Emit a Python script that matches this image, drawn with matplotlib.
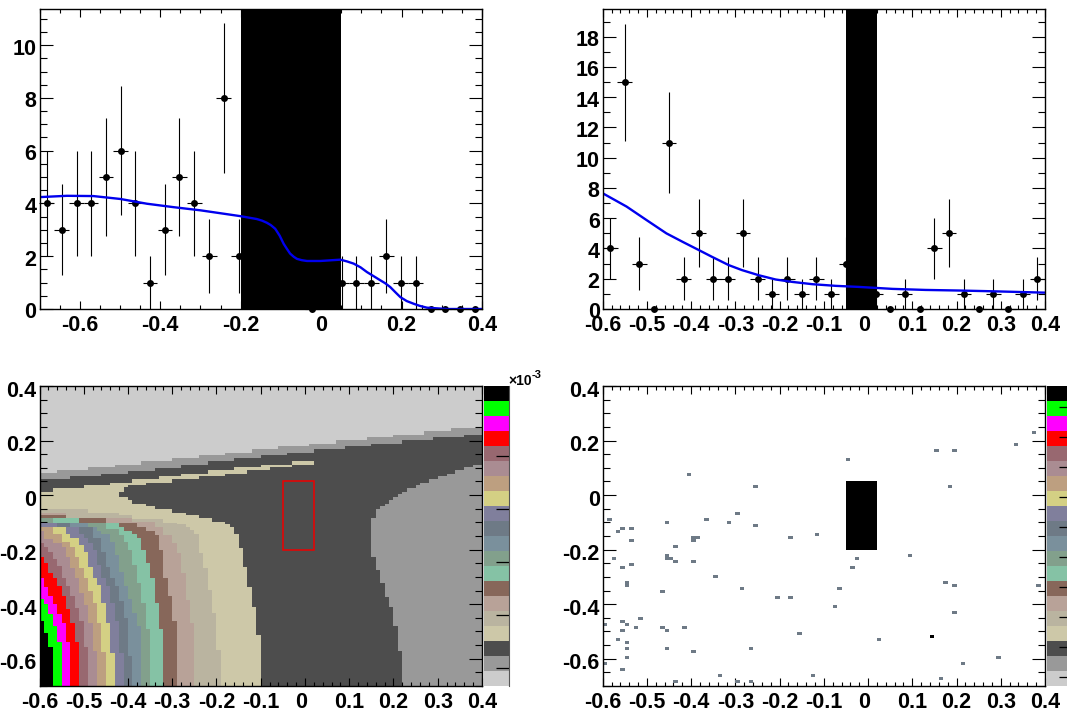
import numpy as np
import matplotlib
matplotlib.use("Agg")
import matplotlib.pyplot as plt
from matplotlib.patches import Rectangle
from matplotlib.ticker import FixedLocator, FixedFormatter
from matplotlib.transforms import ScaledTranslation

W, H, DPI = 1067, 714, 100
plt.rcParams['font.family'] = ['Liberation Sans', 'DejaVu Sans']

# ---------- top-left histogram
tl_x = [-0.682,-0.645,-0.608,-0.572,-0.535,-0.498,-0.462,-0.425,-0.388,-0.352,-0.315,-0.278,-0.242,-0.205,
        -0.022,0.052,0.088,0.125,0.162,0.198,0.235,0.272,0.308,0.345,0.382]
tl_y = [4,3,4,4,5,6,4,1,3,5,4,2,8,2,0,1,1,1,2,1,1,0,0,0,0]
tl_err = [2,1.73,2,2,2.24,2.45,2,1,1.73,2.24,2,1.41,2.83,1.41,0,1,1,1,1.41,1,1,0,0,0,0]
tl_xerr = 0.0183
tl_curve_x = [-0.7,-0.632,-0.566,-0.499,-0.433,-0.367,-0.300,-0.201,-0.160,-0.147,-0.135,-0.125,-0.114,-0.103,-0.093,-0.085,
              -0.077,-0.068,-0.060,-0.048,-0.035,-0.002,0.048,0.065,0.081,0.098,0.114,0.130,0.147,0.160,0.172,0.185,0.197,0.213,0.230,0.245,0.263,0.313,0.4]
tl_curve_y = [4.24,4.29,4.28,4.17,3.99,3.86,3.74,3.52,3.41,3.35,3.27,3.18,3.04,2.78,2.47,2.28,
              2.10,1.98,1.90,1.85,1.82,1.82,1.87,1.80,1.72,1.58,1.40,1.25,1.09,0.97,0.83,0.63,0.45,0.30,0.20,0.12,0.05,0.0,0.0]

# ---------- top-right histogram
tr_x = [-0.583,-0.55,-0.517,-0.483,-0.45,-0.417,-0.383,-0.35,-0.317,-0.283,-0.25,-0.217,-0.183,-0.15,-0.117,-0.083,-0.05,
        0.017,0.05,0.083,0.117,0.15,0.183,0.217,0.25,0.283,0.317,0.35,0.383]
tr_y = [4,15,3,0,11,2,5,2,2,5,2,1,2,1,2,1,3,1,0,1,0,4,5,1,0,1,0,1,2]
tr_err = [2,3.87,1.73,0,3.32,1.41,2.24,1.41,1.41,2.24,1.41,1,1.41,1,1.41,1,1.73,1,0,1,0,2,2.24,1,0,1,0,1,1.41]
tr_xerr = 0.0167
tr_curve_x = [-0.6,-0.6,-0.546,-0.501,-0.456,-0.418,-0.383,-0.353,-0.315,-0.285,-0.247,-0.209,-0.171,-0.126,-0.073,-0.021,0.055,0.13,0.208,0.283,0.4]
tr_curve_y = [1.2,7.65,6.77,5.88,5.0,4.42,3.9,3.45,2.9,2.57,2.23,1.95,1.79,1.64,1.53,1.46,1.33,1.26,1.22,1.17,1.08]

# ---------- bottom-right scatter cells
br_x = [-0.585,-0.556,-0.535,-0.567,-0.535,-0.576,-0.556,-0.535,-0.546,-0.546,-0.456,-0.465,-0.436,-0.456,-0.456,-0.445,-0.436,-0.395,-0.395,-0.395,-0.385,
        -0.366,-0.316,-0.296,-0.255,-0.255,-0.406,-0.176,-0.114,-0.045,0.154,0.195,0.335,0.374,0.184,0.096,-0.027,-0.036,-0.345,-0.287,-0.205,-0.176,-0.065,-0.076,
        0.175,0.195,0.385,0.195,-0.515,-0.556,-0.546,-0.595,-0.526,-0.556,-0.465,-0.456,-0.415,-0.567,-0.546,-0.546,-0.456,-0.395,-0.266,-0.155,0.025,-0.546,-0.595,-0.556,
        -0.436,-0.336,-0.296,-0.266,-0.126,0.166,0.213,0.295,0.143]
br_y = [-0.092,-0.124,-0.124,-0.136,-0.169,-0.232,-0.265,-0.254,-0.320,-0.331,-0.100,-0.353,-0.188,-0.221,-0.232,-0.232,-0.246,-0.246,-0.158,-0.169,-0.158,
        -0.092,-0.100,-0.068,-0.112,0.031,0.075,-0.155,-0.144,0.130,0.161,0.161,0.185,0.228,0.031,-0.221,-0.232,-0.265,-0.298,-0.345,-0.375,-0.375,-0.345,-0.408,
        -0.320,-0.331,-0.331,-0.430,-0.455,-0.463,-0.474,-0.474,-0.485,-0.499,-0.485,-0.499,-0.485,-0.532,-0.540,-0.564,-0.564,-0.573,-0.564,-0.507,-0.532,-0.595,-0.617,-0.641,
        -0.684,-0.661,-0.684,-0.684,-0.661,-0.674,-0.617,-0.595,-0.518]
br_w = [1]*76 + [2]

# ---------- palette (lowest level first)
palette = ['#cccccc','#999999','#4d4d4d','#cdc8a8','#bab4a0','#b8a298','#87675a','#85c2a5','#82a08c','#7a909c',
           '#6e7a86','#807f9c','#d4d084','#bd9f80','#aa8c92','#986870','#ff0000','#ff00ff','#00ff00','#000000']

# ---------- bottom-left contour levels (step edges)
lvl1_x = [-0.6,-0.56,-0.49,-0.43,-0.37,-0.30,-0.24,-0.18,-0.12,-0.06,0.01,0.07,0.14,0.20,0.27,0.33,0.4]
lvl1_y = [0.080,0.092,0.104,0.110,0.125,0.136,0.148,0.154,0.169,0.180,0.187,0.202,0.213,0.220,0.235,0.246,0.246]
lvl2_x = [-0.6,-0.53,-0.46,-0.40,-0.34,-0.28,-0.22,-0.16,-0.10,-0.04,0.02,0.09,0.15,0.22,0.29,0.36,0.4]
lvl2_y = [0.060,0.070,0.077,0.089,0.100,0.110,0.125,0.136,0.147,0.154,0.169,0.180,0.187,0.202,0.213,0.220,0.220]
right_y = [-0.7,-0.572,-0.480,-0.410,-0.374,-0.322,-0.275,-0.226,-0.084,-0.051,-0.040,-0.033,-0.018,-0.007,0.004,0.011,0.026,0.037,0.044,0.059,0.070,0.077,0.092,0.103,0.110]
right_x = [0.22,0.21,0.20,0.19,0.18,0.17,0.16,0.15,0.16,0.17,0.18,0.19,0.20,0.21,0.22,0.23,0.25,0.26,0.28,0.30,0.32,0.34,0.36,0.38,0.38]
cream_x = [-0.6,-0.57,-0.50,-0.44,-0.42,-0.40,-0.39,-0.36,-0.34,-0.30,-0.27,-0.24,-0.21,-0.18,-0.17,-0.16,-0.15,-0.14,-0.13,-0.12,-0.11,-0.10]
cream_y = [0.012,0.026,0.037,0.044,-0.006,-0.018,-0.033,-0.039,-0.051,-0.066,-0.073,-0.084,-0.099,-0.106,-0.117,-0.143,-0.194,-0.264,-0.337,-0.410,-0.513,-0.513]
strip_x = [-0.42,-0.41,-0.40,-0.39,-0.36,-0.33,-0.30,-0.28,-0.24,-0.22,-0.18,-0.16,-0.13,-0.10,-0.08,-0.03,0.02]
strip_hi = [0.044,0.044,0.044,0.059,0.059,0.070,0.070,0.077,0.077,0.092,0.092,0.103,0.103,0.110,0.110,0.125,0.125]
strip_lo = [0.012,0.029,0.037,0.037,0.044,0.044,0.059,0.059,0.070,0.070,0.077,0.077,0.092,0.092,0.103,0.110,0.110]

b4_x = [-0.19,-0.20,-0.21,-0.22,-0.23,-0.24,-0.25,-0.26,-0.27,-0.29,-0.32,-0.39,-0.42,-0.49]
b4_y = [-0.568,-0.433,-0.348,-0.269,-0.213,-0.143,-0.128,-0.117,-0.107,-0.101,-0.086,-0.073,-0.067,-0.051]
b5_x = [-0.25,-0.26,-0.27,-0.28,-0.29,-0.30,-0.32,-0.34,-0.39,-0.54]
b5_y = [-0.470,-0.385,-0.287,-0.213,-0.177,-0.146,-0.116,-0.099,-0.084,-0.067]
b6_x = [-0.29,-0.30,-0.31,-0.32,-0.33,-0.34,-0.36,-0.38,-0.45,-0.54]
b6_y = [-0.462,-0.370,-0.305,-0.201,-0.146,-0.130,-0.116,-0.101,-0.084,-0.072]
b7_x = [-0.32,-0.33,-0.34,-0.35,-0.36,-0.37,-0.38,-0.39,-0.41,-0.42,-0.51]
b7_y = [-0.492,-0.394,-0.305,-0.250,-0.201,-0.158,-0.143,-0.130,-0.116,-0.101,-0.084]
b8_x = [-0.35,-0.36,-0.37,-0.38,-0.39,-0.40,-0.41,-0.42,-0.45,-0.57]
b8_y = [-0.492,-0.394,-0.324,-0.256,-0.201,-0.171,-0.146,-0.125,-0.101,-0.084]
b9_x = [-0.37,-0.38,-0.39,-0.40,-0.41,-0.42,-0.43,-0.44,-0.46,-0.47,-0.49]
b9_y = [-0.480,-0.431,-0.382,-0.333,-0.281,-0.220,-0.171,-0.143,-0.130,-0.118,-0.101]
b10_x = [-0.39,-0.40,-0.41,-0.42,-0.43,-0.44,-0.45,-0.46,-0.48,-0.53]
b10_y = [-0.590,-0.449,-0.388,-0.333,-0.305,-0.262,-0.207,-0.158,-0.118,-0.101]
b11_x = [-0.41,-0.42,-0.43,-0.44,-0.45,-0.46,-0.47,-0.48,-0.49,-0.50,-0.51,-0.56]
b11_y = [-0.578,-0.462,-0.394,-0.333,-0.305,-0.256,-0.201,-0.177,-0.158,-0.143,-0.118,-0.101]
b12_x = [-0.43,-0.44,-0.45,-0.46,-0.47,-0.48,-0.49,-0.50,-0.51,-0.53,-0.54]
b12_y = [-0.578,-0.468,-0.394,-0.330,-0.305,-0.262,-0.207,-0.183,-0.158,-0.143,-0.118]
b13_x = [-0.45,-0.46,-0.47,-0.48,-0.49,-0.50,-0.51,-0.52,-0.53,-0.55,-0.57]
b13_y = [-0.574,-0.468,-0.394,-0.352,-0.305,-0.269,-0.226,-0.189,-0.171,-0.143,-0.118]
b14_x = [-0.47,-0.48,-0.49,-0.50,-0.51,-0.52,-0.53,-0.54,-0.55,-0.57,-0.59]
b14_y = [-0.572,-0.468,-0.404,-0.358,-0.305,-0.269,-0.226,-0.189,-0.177,-0.162,-0.130]
b15_x = [-0.49,-0.50,-0.51,-0.52,-0.53,-0.54,-0.55,-0.56,-0.57,-0.58,-0.59]
b15_y = [-0.557,-0.462,-0.413,-0.370,-0.333,-0.304,-0.260,-0.236,-0.207,-0.189,-0.174]
b16_x = [-0.51,-0.52,-0.53,-0.54,-0.55,-0.56,-0.57,-0.58,-0.59]
b16_y = [-0.537,-0.468,-0.419,-0.370,-0.333,-0.304,-0.287,-0.250,-0.226]
b17_x = [-0.53,-0.54,-0.55,-0.56,-0.57,-0.58,-0.59]
b17_y = [-0.537,-0.470,-0.436,-0.399,-0.370,-0.338,-0.304]
b18_x = [-0.55,-0.56,-0.57,-0.58,-0.59]
b18_y = [-0.537,-0.480,-0.436,-0.399,-0.381]
b19_x = [-0.57,-0.58,-0.59]
b19_y = [-0.556,-0.507,-0.462]
fans = [(4,b4_x,b4_y),(5,b5_x,b5_y),(6,b6_x,b6_y),(7,b7_x,b7_y),(8,b8_x,b8_y),(9,b9_x,b9_y),(10,b10_x,b10_y),
        (11,b11_x,b11_y),(12,b12_x,b12_y),(13,b13_x,b13_y),(14,b14_x,b14_y),(15,b15_x,b15_y),(16,b16_x,b16_y),
        (17,b17_x,b17_y),(18,b18_x,b18_y),(19,b19_x,b19_y)]

# ---------- shared excluded region
band_x = [-0.05, 0.02]
band_x_tl = [-0.2, 0.05]
band_y = [-0.2, 0.05]

# ---------- ticks
xticks_tl = [-0.6,-0.4,-0.2,0,0.2,0.4]
xlabels_tl = ['-0.6','-0.4','-0.2','0','0.2','0.4']
xticks = [-0.6,-0.5,-0.4,-0.3,-0.2,-0.1,0,0.1,0.2,0.3,0.4]
xlabels = ['-0.6','-0.5','-0.4','-0.3','-0.2','-0.1','0','0.1','0.2','0.3','0.4']
yticks_tl = [0,2,4,6,8,10]
yticks_tr = [0,2,4,6,8,10,12,14,16,18]
yticks_b = [-0.6,-0.4,-0.2,0,0.2,0.4]
ylabels_b = ['-0.6','-0.4','-0.2','0','0.2','0.4']
cbar_ticks_l = [0.0594,0.2361,0.4122,0.5889,0.7656]
cbar_ticks_r = [0.0311,0.1311,0.2311,0.3311,0.4311,0.5311,0.6311,0.7311,0.8311,0.9311]

fig = plt.figure(figsize=(W/DPI, H/DPI), dpi=DPI, facecolor='white')

def mkax(l, t, r, b, **kw):
    return fig.add_axes([l/W, 1-b/H, (r-l)/W, (b-t)/H], **kw)

def style(ax, xt, xl, yt, yl, xminor, yminor, ydy):
    ax.xaxis.set_major_locator(FixedLocator(xt))
    ax.xaxis.set_major_formatter(FixedFormatter(xl))
    ax.yaxis.set_major_locator(FixedLocator(yt))
    ax.yaxis.set_major_formatter(FixedFormatter(yl))
    ax.xaxis.set_minor_locator(FixedLocator(xminor))
    ax.yaxis.set_minor_locator(FixedLocator(yminor))
    ax.tick_params(axis='x', which='major', direction='in', top=True, bottom=True, length=6, width=0.8, pad=4.5,
                   labelsize=15.5)
    ax.tick_params(axis='x', which='minor', direction='in', top=True, bottom=True, length=3, width=0.8)
    ax.tick_params(axis='y', which='major', direction='in', left=True, right=True, length=9.5, width=0.8, pad=2.2,
                   labelsize=15.5)
    ax.tick_params(axis='y', which='minor', direction='in', left=True, right=True, length=4.7, width=0.8)
    for s in ax.spines.values():
        s.set_linewidth(1.0)
        s.set_zorder(20)
    for lab in ax.get_xticklabels() + ax.get_yticklabels():
        lab.set_fontweight('bold')
    for lab in ax.get_yticklabels():
        lab.set_transform(lab.get_transform() + ScaledTranslation(0, -ydy/DPI, fig.dpi_scale_trans))
    for lab in ax.get_xticklabels():
        if lab.get_text() == '0' and len(xl) == 11:
            lab.set_transform(lab.get_transform() + ScaledTranslation(-3.5/DPI, 0, fig.dpi_scale_trans))

def points(ax, x, y, yerr, xerr):
    ax.errorbar(x, y, yerr=yerr, xerr=xerr, fmt='o', color='black', ms=5, mew=0, elinewidth=0.8,
                capsize=1.2, capthick=0.8, clip_on=False, zorder=3)

def cbar(l, r, ticks):
    ax = mkax(l, 386, r, 686)
    edges = np.arange(21)/20
    ax.pcolormesh([0, 1], edges, np.arange(20).reshape(-1, 1), cmap=matplotlib.colors.ListedColormap(palette),
                  vmin=-0.5, vmax=19.5, linewidth=0, rasterized=True)
    ax.set_xlim(0, 1)
    ax.set_ylim(0, 1)
    ax.set_xticks([])
    ax.yaxis.set_ticks_position('right')
    ax.set_yticks(ticks)
    ax.set_yticklabels([])
    ax.tick_params(axis='y', direction='in', length=9.5, width=0.9, color='black')
    for n, s in ax.spines.items():
        s.set_visible(n == 'right')
        s.set_color('#555555')
    return ax

# ---------- top-left
a1 = mkax(39.5, 9, 482, 309)
a1.set_xlim(-0.7, 0.4); a1.set_ylim(0, 11.37)
points(a1, tl_x, tl_y, tl_err, tl_xerr)
a1.axvspan(band_x_tl[0], band_x_tl[1], color='black', lw=0, zorder=4)
a1.plot(tl_curve_x, tl_curve_y, color='#0000ee', lw=1.7, zorder=5)
style(a1, xticks_tl, xlabels_tl, yticks_tl, [str(v) for v in yticks_tl],
      np.arange(-0.7, 0.4001, 0.05), np.arange(0, 11.4, 0.5), 1.5)

# ---------- top-right
a2 = mkax(602.7, 9, 1045, 309)
a2.set_xlim(-0.6, 0.4); a2.set_ylim(0, 19.83)
points(a2, tr_x, tr_y, tr_err, tr_xerr)
a2.axvspan(band_x[0], band_x[1], color='black', lw=0, zorder=4)
a2.plot(tr_curve_x, tr_curve_y, color='#0000ee', lw=1.7, zorder=5)
style(a2, xticks, xlabels, yticks_tr, [str(v) for v in yticks_tr],
      np.arange(-0.6, 0.4001, 0.02), np.arange(0, 19.9, 1), 1.5)

# ---------- bottom-left
a3 = mkax(39.5, 386, 482, 686)
a3.set_xlim(-0.6, 0.4); a3.set_ylim(-0.7, 0.4)
a3.set_facecolor(palette[0])
a3.fill_between(lvl1_x, -0.7, lvl1_y, step='post', color=palette[1], lw=0, zorder=1)
a3.fill_between(lvl2_x, -0.7, lvl2_y, step='post', color=palette[2], lw=0, zorder=1.1)
a3.fill_betweenx(right_y, right_x, 0.4, step='post', color=palette[1], lw=0, zorder=1.2)
a3.fill_between(cream_x, -0.7, cream_y, step='post', color=palette[3], lw=0, zorder=1.3)
a3.fill_between(strip_x, strip_lo, strip_hi, step='post', color=palette[3], lw=0, zorder=1.3)
for lvl, xs, ys in fans:
    yy = [-0.7] + ys
    xx = [xs[0]] + xs
    a3.fill_betweenx(yy, -0.6, xx, step='pre', color=palette[lvl], lw=0, zorder=1.4+lvl*0.01)
a3.add_patch(Rectangle((band_x[0], band_y[0]), band_x[1]-band_x[0], band_y[1]-band_y[0],
                       fill=False, ec='#ee0000', lw=1.1, zorder=6))
ymin = np.arange(-0.7, 0.4001, 0.05)
style(a3, xticks, xlabels, yticks_b, ylabels_b, np.arange(-0.6, 0.4001, 0.02), ymin, 2.5)
cbar(484, 509, cbar_ticks_l)
fig.text(508/W, 1-385/H, '\u00d710', fontsize=10, fontweight='bold', ha='left', va='baseline', color='black')
fig.text(532/W, 1-377.5/H, '-3', fontsize=8, fontweight='bold', ha='left', va='baseline', color='black')

# ---------- bottom-right
a4 = mkax(602.7, 386, 1045, 686)
a4.set_xlim(-0.6, 0.4); a4.set_ylim(-0.7, 0.4)
xe = np.linspace(-0.6, 0.4, 101)
ye = np.linspace(-0.7, 0.4, 101)
counts, _, _ = np.histogram2d(br_x, br_y, bins=[xe, ye], weights=br_w)
cm = matplotlib.colors.ListedColormap([palette[10], '#000000'])
a4.pcolormesh(xe, ye, np.ma.masked_equal(counts.T, 0), cmap=cm, vmin=0.5, vmax=2.5, zorder=2)
a4.add_patch(Rectangle((band_x[0], band_y[0]), band_x[1]-band_x[0], band_y[1]-band_y[0],
                       fc='black', ec='none', zorder=4))
style(a4, xticks, xlabels, yticks_b, ylabels_b, np.arange(-0.6, 0.4001, 0.02), ymin, 2.5)
cbar(1047, 1072, cbar_ticks_r)

fig.savefig('out.png', dpi=DPI, facecolor='white')
